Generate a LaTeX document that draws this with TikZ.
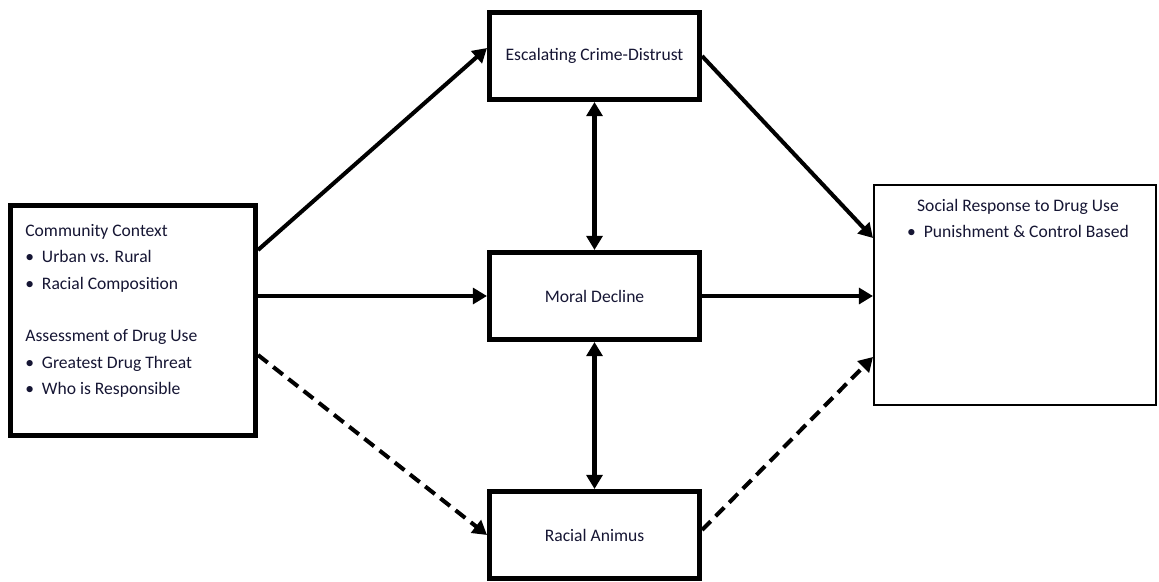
\documentclass[tikz,border=0pt]{standalone}
\usepackage{fontspec}
\setmainfont{Carlito}
\usepackage{xcolor}
\usetikzlibrary{arrows.meta,calc,positioning}
\definecolor{dmInk}{RGB}{22,22,52}
\definecolor{dmLine}{RGB}{0,0,0}
\newcommand{\dmbullet}[1]{\textbullet\hspace{0.45em}#1}

\begin{document}
\begin{tikzpicture}[
  factor/.style={draw=dmLine, line width=3pt, fill=white, inner sep=0pt,
    minimum width=4.195cm, minimum height=1.735cm,
    font=\fontsize{10}{15}\selectfont\color{dmInk}},
  listtext/.style={inner sep=0pt, font=\fontsize{10}{15}\selectfont\color{dmInk}},
  link/.style={draw=dmLine, line width=2.3pt, -{Triangle[length=8pt,width=9pt]}},
  twolink/.style={draw=dmLine, line width=2.3pt,
    {Triangle[length=8pt,width=9pt]}-{Triangle[length=8pt,width=9pt]}},
  dashlink/.style={link, dash pattern=on 7pt off 4pt}
]
  \useasboundingbox (0,0) rectangle (23.18,11.62);
  % left box
  \node[factor, minimum width=4.895cm, minimum height=4.595cm] (context) at (2.66,5.21) {};
  \node[listtext, anchor=north west, align=left] (contexttext)
    at ([xshift=0.34cm,yshift=-0.42cm]context.north west)
    {Community Context\\ \dmbullet{Urban vs. Rural}\\ \dmbullet{Racial Composition}\\[15pt]
     Assessment of Drug Use\\ \dmbullet{Greatest Drug Threat}\\ \dmbullet{Who is Responsible}};
  % middle column
  \node[factor] (crime) at (11.89,10.50) {Escalating Crime-Distrust};
  \node[factor] (moral) at (11.89,5.70) {Moral Decline};
  \node[factor] (racial) at (11.89,0.92) {Racial Animus};
  % right box
  \node[draw=dmLine, line width=1pt, fill=white, inner sep=0pt,
    minimum width=5.645cm, minimum height=4.405cm] (response) at (20.30,5.72) {};
  \node[listtext, anchor=north, align=center] (responsetext)
    at ([xshift=0.06cm,yshift=-0.29cm]response.north)
    {Social Response to Drug Use\\ \dmbullet{Punishment \& Control Based}};
  % connectors
  \draw[link] ([yshift=1.41cm]context.east) -- ([yshift=0.16cm]crime.west);
  \draw[link] (context.east |- moral.west) -- (moral.west);
  \draw[dashlink] ([yshift=-0.69cm]context.east) -- (racial.west);
  \draw[link] (crime.east) -- ([yshift=1.14cm]response.west);
  \draw[link] (moral.east) -- (response.west |- moral.east);
  \draw[dashlink] ([yshift=0.1cm]racial.east) -- ([yshift=-1.24cm]response.west);
  \draw[twolink] (crime) -- (moral);
  \draw[twolink] (moral) -- (racial);
\end{tikzpicture}
\end{document}
